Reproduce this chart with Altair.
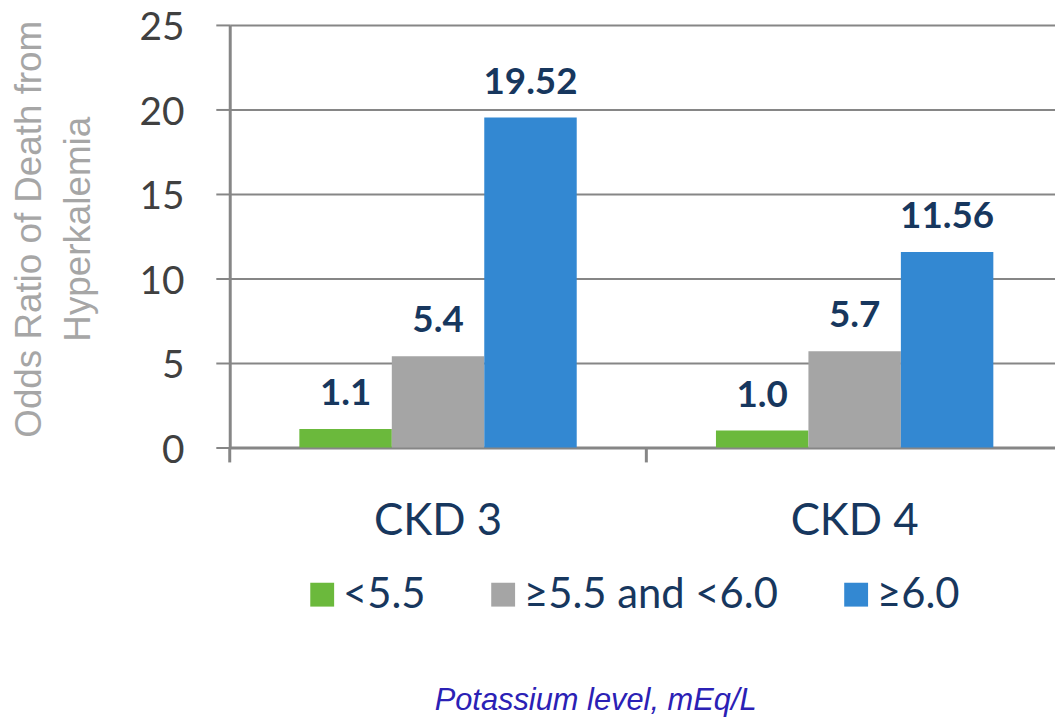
import altair as alt
import pandas as pd

categories = ["CKD 3", "CKD 4"]
groups = ["<5.5", "≥5.5 and <6.0", "≥6.0"]
ckd3_values = [1.1, 5.4, 19.52]
ckd4_values = [1.0, 5.7, 11.56]
colors = ["#6bb93c", "#a5a5a5", "#3388d2"]
y_ticks = [0, 5, 10, 15, 20, 25]
y_title = ["Odds Ratio of Death from", "Hyperkalemia"]
footer = ["Potassium level, mEq/L"]

rows = []
for cat, vals in zip(categories, [ckd3_values, ckd4_values]):
    for g, v in zip(groups, vals):
        lab = f"{v:.2f}" if round(v, 1) != v else f"{v:.1f}"
        rows.append({"stage": cat, "group": g, "value": v, "label": lab})
df = pd.DataFrame(rows)

W, H = 830, 425
GRAY = "#868686"
NAVY = "#17375e"

xscale = alt.Scale(domain=categories, range=[0, 838], paddingInner=0, paddingOuter=0)
xaxis = alt.Axis(title=None, ticks=False, labelFontSize=44, labelFont="Lato",
                 labelColor=NAVY, labelPadding=52, domainColor=GRAY, domainWidth=3,
                 labelAngle=0, grid=False)
offscale = alt.Scale(domain=groups, paddingInner=0, paddingOuter=0.753)
yscale = alt.Scale(domain=[0, 25], nice=False)
yaxis = alt.Axis(values=y_ticks, grid=True, gridColor=GRAY, gridWidth=2,
                 domainColor=GRAY, domainWidth=3, tickColor=GRAY, tickWidth=2,
                 tickSize=14, labelFontSize=39, labelFont="Lato", labelColor="#404040",
                 labelPadding=32, labelOffset=3, title=y_title, titleFont="Liberation Sans",
                 titleFontSize=37, titleFontWeight="normal", titleColor="#a6a6a6",
                 titleX=-219, titleY=205, titleAngle=270, titleBaseline="top",
                 titleAlign="center", titleLineHeight=49)

base = alt.Chart(df)
bars = base.mark_bar().encode(
    x=alt.X("stage:N", scale=xscale, axis=xaxis, title=None),
    xOffset=alt.XOffset("group:N", scale=offscale, sort=groups),
    y=alt.Y("value:Q", scale=yscale, axis=yaxis),
    color=alt.Color("group:N", scale=alt.Scale(domain=groups, range=colors), sort=groups,
                    legend=alt.Legend(title=None, orient="none", legendX=72, legendY=552,
                                      direction="horizontal", symbolType="square",
                                      symbolSize=576, symbolStrokeWidth=0, padding=0,
                                      labelFont="Lato", labelFontSize=42, labelLimit=0,
                                      labelColor=NAVY, labelOffset=0,
                                      columnPadding=57, symbolOpacity=1)),
)
labels = base.mark_text(baseline="bottom", dy=-16, font="Lato", fontWeight="bold",
                        fontSize=37, color=NAVY).encode(
    x=alt.X("stage:N", scale=xscale, title=None),
    xOffset=alt.XOffset("group:N", scale=offscale, sort=groups),
    y=alt.Y("value:Q", scale=yscale),
    text="label:N",
)
ticks = alt.Chart(pd.DataFrame({"stage": categories})).mark_rule(
    color=GRAY, strokeWidth=3).encode(
    x=alt.X("stage:N", bandPosition=0, scale=xscale, title=None),
    y=alt.value(H), y2=alt.value(H + 15),
)
foot = alt.Chart(pd.DataFrame({"t": footer})).mark_text(
    font="Liberation Sans", fontStyle="italic", fontSize=31, color="#2b21b5",
    align="center", baseline="alphabetic").encode(
    x=alt.value(368), y=alt.value(689), text="t:N")

chart = alt.layer(bars, labels, ticks, foot).properties(
    width=W, height=H,
    autosize=alt.AutoSizeParams(type="none"),
    padding={"left": 223, "top": 15, "right": 0, "bottom": 269},
    background="white",
).configure_view(stroke=None)

chart.save("out.html", embed_options={"renderer": "svg", "actions": False})
